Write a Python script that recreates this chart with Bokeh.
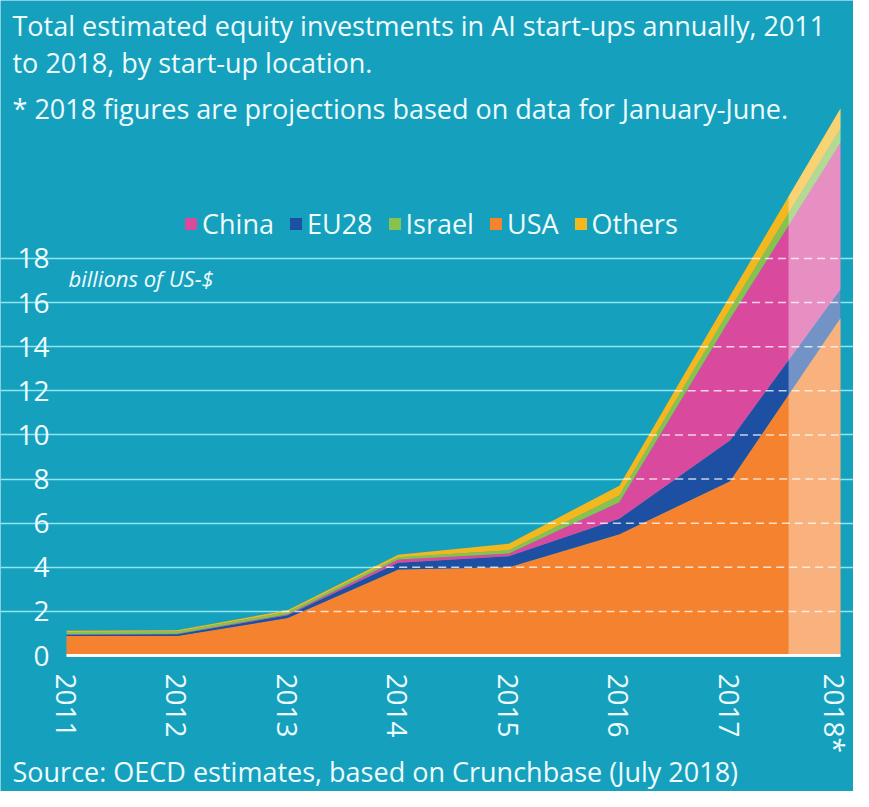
import numpy as np
from bokeh.plotting import figure
from bokeh.models import (ColumnDataSource, Range1d, FixedTicker, Label, Legend,
                          LegendItem)
from bokeh.embed import file_html
from bokeh.resources import INLINE

# ---------------- data (billions of US-$) ----------------
YEARS = [2011, 2012, 2013, 2014, 2015, 2016, 2017, 2018]
USA = [0.88, 0.88, 1.70, 3.90, 4.00, 5.50, 7.90, 15.30]
EU28 = [0.06, 0.08, 0.12, 0.30, 0.50, 0.70, 1.85, 1.30]
CHINA = [0.02, 0.03, 0.05, 0.15, 0.12, 0.75, 5.50, 6.65]
ISRAEL = [0.10, 0.10, 0.10, 0.10, 0.15, 0.30, 0.45, 0.65]
OTHERS = [0.06, 0.06, 0.08, 0.12, 0.30, 0.45, 0.60, 0.90]
X_TICK_LABELS = ["2011", "2012", "2013", "2014", "2015", "2016", "2017", "2018*"]
Y_TICKS = [0, 2, 4, 6, 8, 10, 12, 14, 16, 18]
PROJ_START = 2017.53  # start of projected (lightened) part

TITLE_1 = "Total estimated equity investments in AI start-ups annually, 2011"
TITLE_2 = "to 2018, by start-up location."
NOTE = "* 2018 figures are projections based on data for January-June."
UNIT = "billions of US-$"
SOURCE = "Source: OECD estimates, based on Crunchbase (July 2018)"

# ---------------- styles / layout ----------------
TEAL = "#15a1bd"
TXT = "#effbfd"
FONT = "Open Sans"
COLORS = {"USA": "#f5822f", "EU28": "#1d4fa3", "China": "#d94a9e",
          "Israel": "#86c24f", "Others": "#f4b81f"}

W, H = 853, 791
PX_LEFT, PX_RIGHT = 66, 840      # screen x of first / last year
PY_ZERO, PX_PER_UNIT = 655, 22.06  # screen y of value 0, pixels per billion
KX = (PX_RIGHT - PX_LEFT) / (YEARS[-1] - YEARS[0])


def px_year(px):
    return YEARS[0] + (px - PX_LEFT) / KX


def py_val(py):
    return (PY_ZERO - py) / PX_PER_UNIT


src = ColumnDataSource(dict(year=YEARS, USA=USA, EU28=EU28, China=CHINA,
                            Israel=ISRAEL, Others=OTHERS))

p = figure(width=W, height=H,
           x_range=Range1d(px_year(0), px_year(W)),
           y_range=Range1d(py_val(H), py_val(0)),
           output_backend="svg", toolbar_location=None,
           min_border=0, min_border_left=0, min_border_right=0,
           min_border_top=0, min_border_bottom=0,
           background_fill_color=TEAL, border_fill_color=TEAL,
           outline_line_color=None)

order = ["USA", "EU28", "China", "Israel", "Others"]
rends = p.varea_stack(stackers=order, x="year", color=[COLORS[k] for k in order],
                      source=src)
rmap = dict(zip(order, rends))

# projected part lightened
total = (np.array(USA) + np.array(EU28) + np.array(CHINA) + np.array(ISRAEL)
         + np.array(OTHERS))
t_start = float(np.interp(PROJ_START, YEARS, total))
p.varea(x=[PROJ_START, YEARS[-1]], y1=[0, 0], y2=[t_start, float(total[-1])],
        fill_color="white", fill_alpha=0.38)

# dashed grid lines over the coloured areas
lev = [g for g in Y_TICKS if 0 < g < total.max()]
x0 = [float(np.interp(g, total, YEARS)) for g in lev]
p.segment(x0=x0, x1=[YEARS[-1]] * len(lev), y0=lev, y1=lev, line_color="white",
          line_alpha=0.75, line_width=1.5, line_dash="8 5")

# axes drawn at fixed locations inside the frame
p.yaxis.ticker = FixedTicker(ticks=Y_TICKS)
p.xaxis.ticker = FixedTicker(ticks=YEARS)
p.xaxis.major_label_overrides = {y: l for y, l in zip(YEARS, X_TICK_LABELS)}
p.xaxis.major_label_orientation = "vertical"
p.xaxis.fixed_location = 0
p.yaxis.fixed_location = YEARS[0]
p.xaxis.bounds = (YEARS[0], YEARS[-1])
p.yaxis.bounds = (Y_TICKS[0], Y_TICKS[-1])
for ax in (p.xaxis, p.yaxis):
    ax.major_tick_line_color = None
    ax.minor_tick_line_color = None
    ax.major_label_text_color = TXT
    ax.major_label_text_font = FONT
    ax.major_label_text_font_size = "28px"
p.yaxis.axis_line_color = None
p.yaxis.major_label_standoff = 11
p.xaxis.axis_line_color = "white"
p.xaxis.axis_line_width = 3
p.xaxis.major_label_standoff = 12
p.xgrid.grid_line_color = None
p.ygrid.grid_line_color = "#8fe6f2"
p.ygrid.grid_line_width = 1.5
p.ygrid.ticker = FixedTicker(ticks=Y_TICKS[1:])
p.ygrid.bounds = (YEARS[0], YEARS[-1])

# legend
legend = Legend(items=[LegendItem(label=k, renderers=[rmap[k]])
                       for k in ["China", "EU28", "Israel", "USA", "Others"]],
                orientation="horizontal", location=(183, H - 242),
                background_fill_alpha=0, border_line_alpha=0,
                label_text_color=TXT, label_text_font=FONT,
                label_text_font_size="27px", glyph_width=15, glyph_height=15,
                label_standoff=4, spacing=14, padding=0, margin=0)
p.add_layout(legend, "center")


def lab(text, px, py, size, style="normal"):
    p.add_layout(Label(x=px_year(px), y=py_val(py), text=text, text_color=TXT,
                       text_font=FONT, text_font_size=size, text_font_style=style,
                       text_baseline="middle", text_align="left"))


lab(TITLE_1, 12, 25, "27px")
lab(TITLE_2, 12, 62, "27px")
lab(NOTE, 12, 108, "27px")
lab(UNIT, 68, 277, "22px", "italic")
lab(SOURCE, 12, 771, "27px")

open("out.html", "w").write(file_html(p, INLINE))
